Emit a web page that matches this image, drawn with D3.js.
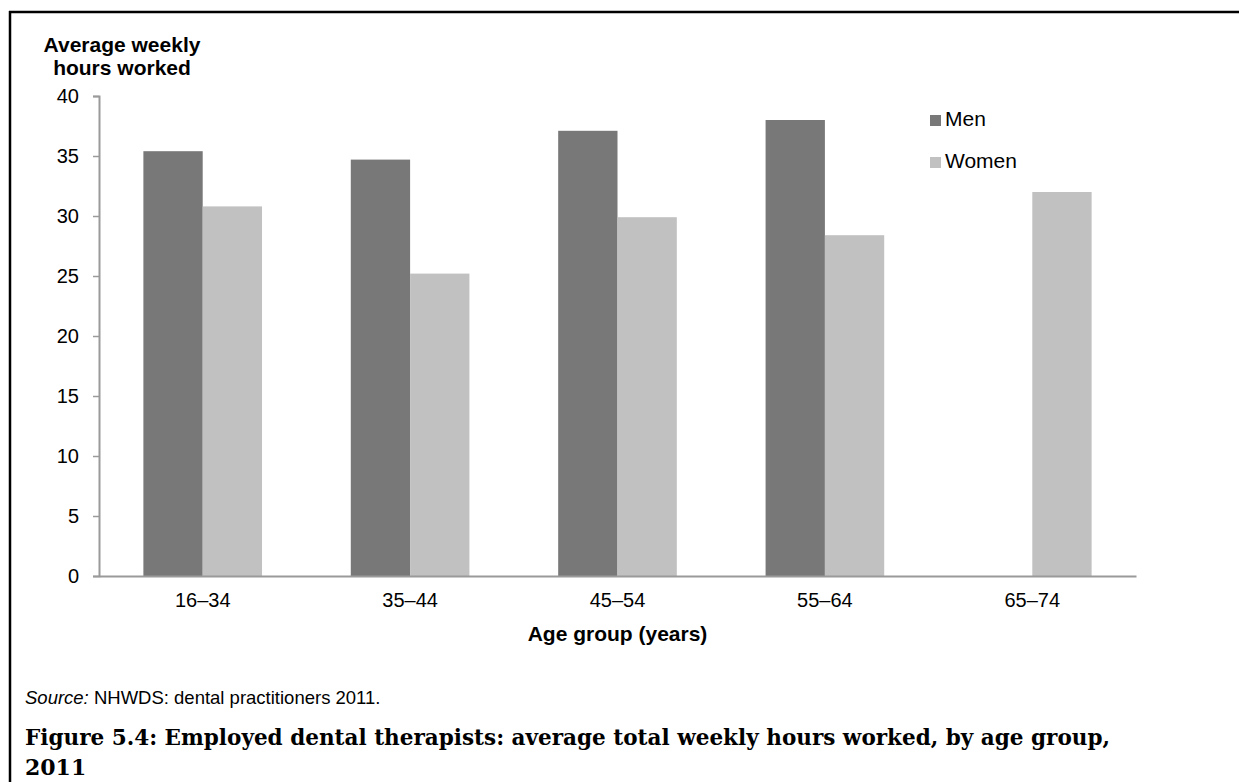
<!DOCTYPE html>
<html lang="en">
<head>
<meta charset="utf-8">
<title>Employed dental therapists: average weekly hours</title>
<script src="https://d3js.org/d3.v7.min.js"></script>
<style>
  body { margin: 0; background: #fff; }
  text { font-family: "Liberation Sans", Arial, sans-serif; fill: #000; }
</style>
</head>
<body>
<div id="chart"></div>
<script>
// data
var ageGroups = ["16–34", "35–44", "45–54", "55–64", "65–74"];
var seriesNames = ["Men", "Women"];
var menHours = [35.4, 34.7, 37.1, 38.0, null];
var womenHours = [30.8, 25.2, 29.9, 28.4, 32.0];
var yTicks = [0, 5, 10, 15, 20, 25, 30, 35, 40];

var colors = { Men: "#787878", Women: "#c1c1c1" };

var W = 1239, H = 782;
var margin = {top: 96, right: 103, bottom: 206, left: 99};

var svg = d3.select("#chart")
  .append("svg")
  .attr("width", W)
  .attr("height", H);

// frame (only top and left edges show)
svg.append("line").attr("x1", 9).attr("x2", W).attr("y1", 12).attr("y2", 12)
  .attr("stroke", "#000").attr("stroke-width", 2.5);
svg.append("line").attr("x1", 10).attr("x2", 10).attr("y1", 11).attr("y2", H)
  .attr("stroke", "#000").attr("stroke-width", 2.5);

var x = d3.scaleBand()
  .domain(ageGroups)
  .range([margin.left, W - margin.right])
  .paddingInner(0.428)
  .paddingOuter(0.214);

var xSub = d3.scaleBand()
  .domain(seriesNames)
  .range([0, x.bandwidth()]);

var y = d3.scaleLinear()
  .domain([0, 40])
  .range([H - margin.bottom, margin.top]);

var rows = ageGroups.map(function(g, i) {
  return {group: g, values: [
    {series: "Men", value: menHours[i]},
    {series: "Women", value: womenHours[i]}
  ]};
});

// bars
svg.append("g")
  .selectAll("g")
  .data(rows)
  .join("g")
  .attr("transform", function(d) { return "translate(" + x(d.group) + ",0)"; })
  .selectAll("rect")
  .data(function(d) { return d.values.filter(function(v) { return v.value != null; }); })
  .join("rect")
  .attr("x", function(d) { return xSub(d.series); })
  .attr("y", function(d) { return y(d.value); })
  .attr("width", xSub.bandwidth())
  .attr("height", function(d) { return y(0) - y(d.value); })
  .attr("fill", function(d) { return colors[d.series]; });

// y axis
var yAxis = svg.append("g")
  .attr("transform", "translate(" + margin.left + ",0)")
  .call(d3.axisLeft(y).tickValues(yTicks).tickSize(6).tickPadding(14));
yAxis.select(".domain").attr("stroke", "#9a9a9a").attr("stroke-width", 2);
yAxis.selectAll(".tick line").attr("stroke", "#9a9a9a").attr("stroke-width", 1.5);
yAxis.selectAll(".tick text")
  .attr("font-size", 20).attr("fill", "#000")
  .style("font-family", "'Liberation Sans', Arial, sans-serif");

// x axis
var xAxis = svg.append("g")
  .attr("transform", "translate(0," + y(0) + ")")
  .call(d3.axisBottom(x).tickSize(0).tickPadding(17).tickSizeOuter(0));
xAxis.select(".domain").attr("stroke", "#9a9a9a").attr("stroke-width", 2);
xAxis.selectAll(".tick text")
  .attr("font-size", 20).attr("fill", "#000")
  .style("font-family", "'Liberation Sans', Arial, sans-serif");

// axis titles
var yTitle = svg.append("text")
  .attr("x", 122).attr("y", 52)
  .attr("text-anchor", "middle")
  .attr("font-size", 21).attr("font-weight", "bold");
yTitle.append("tspan").attr("x", 122).text("Average weekly");
yTitle.append("tspan").attr("x", 122).attr("dy", 23).text("hours worked");

svg.append("text")
  .attr("x", (margin.left + W - margin.right) / 2)
  .attr("y", 641)
  .attr("text-anchor", "middle")
  .attr("font-size", 21).attr("font-weight", "bold")
  .text("Age group (years)");

// legend
var legend = svg.append("g")
  .selectAll("g")
  .data(seriesNames)
  .join("g")
  .attr("transform", function(d, i) { return "translate(930," + (115 + i * 42) + ")"; });
legend.append("rect")
  .attr("width", 11).attr("height", 11)
  .attr("fill", function(d) { return colors[d]; });
legend.append("text")
  .attr("x", 15).attr("y", 11)
  .attr("font-size", 21)
  .text(function(d) { return d; });

// source note
var src = svg.append("text")
  .attr("x", 25).attr("y", 704)
  .attr("font-size", 18.5);
src.append("tspan").attr("font-style", "italic").text("Source:");
src.append("tspan").text(" NHWDS: dental practitioners 2011.");

// figure caption
var cap = svg.append("text")
  .attr("x", 25).attr("y", 745)
  .attr("font-size", 22).attr("font-weight", "bold")
  .style("font-family", "'DejaVu Serif', 'Liberation Serif', serif");
cap.append("tspan").attr("x", 25)
  .attr("textLength", 1085).attr("lengthAdjust", "spacingAndGlyphs")
  .text("Figure 5.4: Employed dental therapists: average total weekly hours worked, by age group,");
cap.append("tspan").attr("x", 25).attr("y", 775).text("2011");
</script>
</body>
</html>
